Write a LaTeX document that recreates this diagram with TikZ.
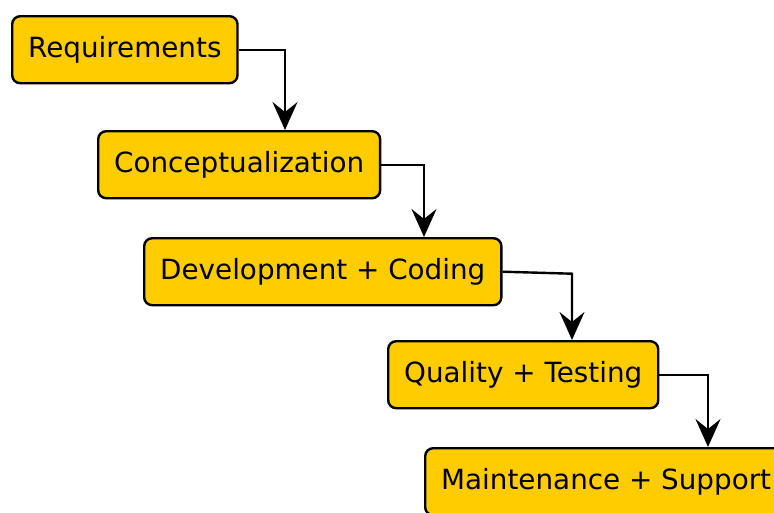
\documentclass[tikz,border=0pt]{standalone}
\usepackage{fontspec}
\setmainfont{DejaVu Sans}
\usepackage{tikz}
\usetikzlibrary{arrows.meta,positioning,calc}
\definecolor{stageyellow}{HTML}{FFCC00}
\tikzstyle{stage} = [rectangle, draw, line width=2.4pt, fill=stageyellow, text centered, rounded corners=8pt, minimum height=67pt, inner xsep=16pt, anchor=north west, font=\fontsize{27.8}{34}\selectfont]
\tikzstyle{flow} = [line width=2.4pt, -{Stealth[length=28pt, width=25pt, inset=10pt]}]

\begin{document}
\begin{tikzpicture}[x=1pt, y=1pt]
    \useasboundingbox (0,0) rectangle (774,-512);
    \node[stage] (req) at (11,-15) {Requirements};
    \node[stage] (concept) at (97,-130) {Conceptualization};
    \node[stage] (dev) at (143,-237) {Development + Coding};
    \node[stage] (quality) at (387,-340) {Quality + Testing};
    \node[stage] (maint) at (424,-447) {Maintenance + Support};
    \coordinate (qtop) at ([xshift=185pt]quality.north west);

    \draw[flow] (req.east) -| ([xshift=188pt]concept.north west);
    \draw[flow] (concept.east) -| ([xshift=281pt]dev.north west);
    \draw[flow] (dev.east) -- ($(dev.east -| qtop)+(0,-2)$) -- (qtop);
    \draw[flow] (quality.east) -| ([xshift=284pt]maint.north west);
\end{tikzpicture}
\end{document}
